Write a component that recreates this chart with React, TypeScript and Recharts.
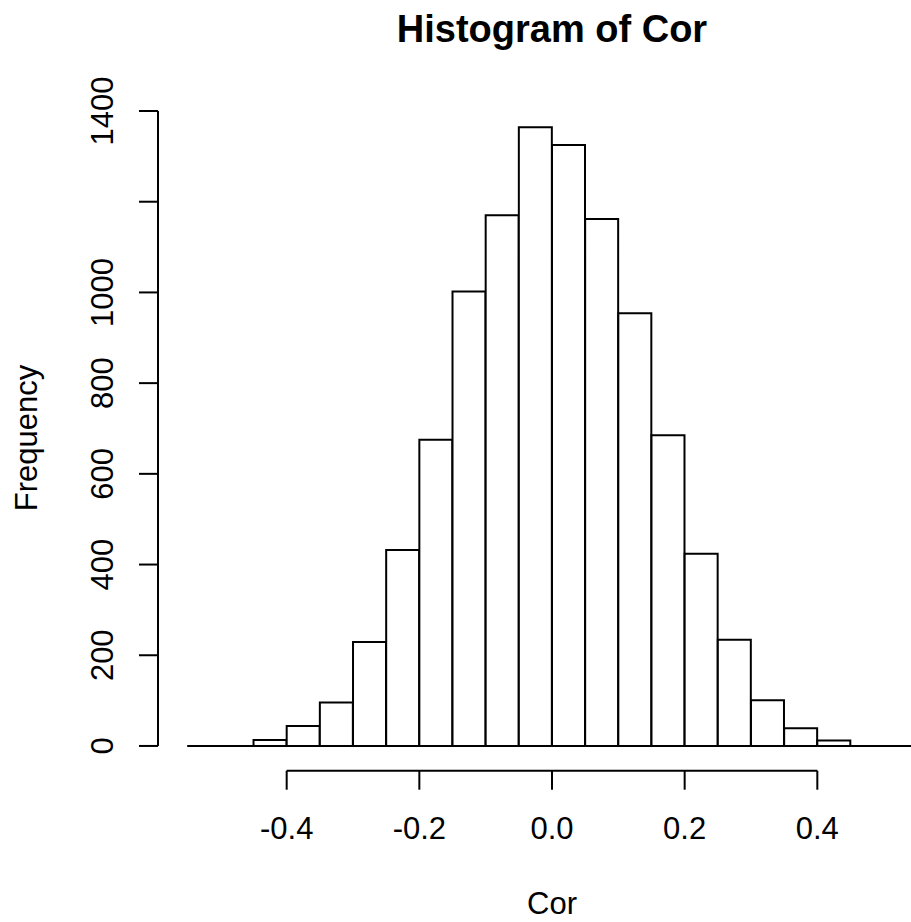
import React from "react";
import {
  Bar,
  BarChart,
  ReferenceLine,
  XAxis,
  YAxis,
} from "recharts";

// histogram bins of Cor: left edges (width 0.05) and counts
const binStarts = [
  -0.55, -0.5, -0.45, -0.4, -0.35, -0.3, -0.25, -0.2, -0.15, -0.1, -0.05,
  0, 0.05, 0.1, 0.15, 0.2, 0.25, 0.3, 0.35, 0.4, 0.45, 0.5,
];
const counts = [
  0, 0, 13, 44, 96, 229, 432, 675, 1002, 1170, 1364,
  1325, 1162, 954, 685, 424, 234, 101, 39, 12, 0, 0,
];
const binWidth = 0.05;

const xTicks = [-0.4, -0.2, 0, 0.2, 0.4];
const xTickLabels = ["-0.4", "-0.2", "0.0", "0.2", "0.4"];
const yTicks = [0, 200, 400, 600, 800, 1000, 1200, 1400];
// R drops the 1200 label because it would overlap
const yTickLabels = ["0", "200", "400", "600", "800", "1000", "", "1400"];

const data = binStarts.map((start, i) => ({
  label: start.toFixed(2),
  mid: start + binWidth / 2,
  count: counts[i],
}));

// R pads both axis ranges by 4%
const xMin = binStarts[0];
const xMax = binStarts[binStarts.length - 1] + binWidth;
const xPad = (xMax - xMin) * 0.04;
const yMaxCount = Math.max(...counts);
const yPad = yMaxCount * 0.04;
const xDomain: [number, number] = [xMin - xPad, xMax + xPad];
const yDomain: [number, number] = [-yPad, yMaxCount + yPad];

const FONT = '"Liberation Sans", Arial, sans-serif';
const INK = "#000";

function YTick(props: any) {
  const { x, y, payload } = props;
  const idx = yTicks.indexOf(payload.value);
  const text = idx >= 0 ? yTickLabels[idx] : "";
  if (!text) return <g />;
  return (
    <text
      transform={`translate(${x - 26}, ${y}) rotate(-90)`}
      textAnchor="middle"
      fill={INK}
      fontSize={31}
      fontFamily={FONT}
    >
      {text}
    </text>
  );
}

export default function App() {
  const W = 960;
  const H = 922;
  return (
    <div
      style={{
        position: "absolute",
        left: 0,
        top: 0,
        width: 911,
        height: H,
        overflow: "hidden",
        background: "#fff",
      }}
    >
      <BarChart
        width={W}
        height={H}
        data={data}
        barCategoryGap={0}
        barGap={0}
        margin={{ top: 102.6, right: 14, bottom: 91.3, left: 0 }}
      >
        <XAxis
          xAxisId="bins"
          dataKey="label"
          type="category"
          hide
          height={0}
          padding={{ left: 29.2, right: 29.2 }}
        />
        <XAxis
          xAxisId="v"
          dataKey="mid"
          type="number"
          domain={xDomain}
          allowDataOverflow
          ticks={xTicks}
          interval={0}
          axisLine={false}
          tickSize={19}
          tickMargin={27}
          tickLine={{ stroke: INK, strokeWidth: 2 }}
          tick={{ fill: INK, fontSize: 31, fontFamily: FONT }}
          tickFormatter={(v: number) => xTickLabels[xTicks.indexOf(v)] ?? v.toFixed(1)}
          height={60}
        />
        <YAxis
          type="number"
          domain={yDomain}
          allowDataOverflow
          ticks={yTicks}
          interval={0}
          width={158}
          axisLine={false}
          tickSize={19}
          tickMargin={0}
          tickLine={{ stroke: INK, strokeWidth: 2 }}
          tick={<YTick />}
        />
        {/* y axis line spans 0..1400 only */}
        <ReferenceLine
          xAxisId="v"
          ifOverflow="visible"
          segment={[
            { x: xDomain[0], y: yTicks[0] },
            { x: xDomain[0], y: yTicks[yTicks.length - 1] },
          ]}
          stroke={INK}
          strokeWidth={2}
        />
        {/* x axis line spans first..last tick */}
        <ReferenceLine
          xAxisId="v"
          ifOverflow="visible"
          segment={[
            { x: xTicks[0], y: yDomain[0] },
            { x: xTicks[xTicks.length - 1], y: yDomain[0] },
          ]}
          stroke={INK}
          strokeWidth={2}
        />
        {/* empty bins drawn as a flat base line */}
        <ReferenceLine
          xAxisId="v"
          ifOverflow="visible"
          segment={[
            { x: xMin, y: 0 },
            { x: xMax, y: 0 },
          ]}
          stroke={INK}
          strokeWidth={2}
        />
        <Bar
          xAxisId="bins"
          dataKey="count"
          fill="#fff"
          stroke={INK}
          strokeWidth={2}
          isAnimationActive={false}
        />
      </BarChart>
      <svg
        width={911}
        height={H}
        style={{ position: "absolute", left: 0, top: 0, pointerEvents: "none" }}
      >
        <text
          x={552}
          y={42}
          textAnchor="middle"
          fontSize={38}
          fontWeight="bold"
          fontFamily={FONT}
          fill={INK}
        >
          Histogram of Cor
        </text>
        <text
          x={552}
          y={914}
          textAnchor="middle"
          fontSize={31}
          fontFamily={FONT}
          fill={INK}
        >
          Cor
        </text>
        <text
          transform="translate(36.5, 438) rotate(-90)"
          textAnchor="middle"
          fontSize={31}
          fontFamily={FONT}
          fill={INK}
        >
          Frequency
        </text>
      </svg>
    </div>
  );
}
